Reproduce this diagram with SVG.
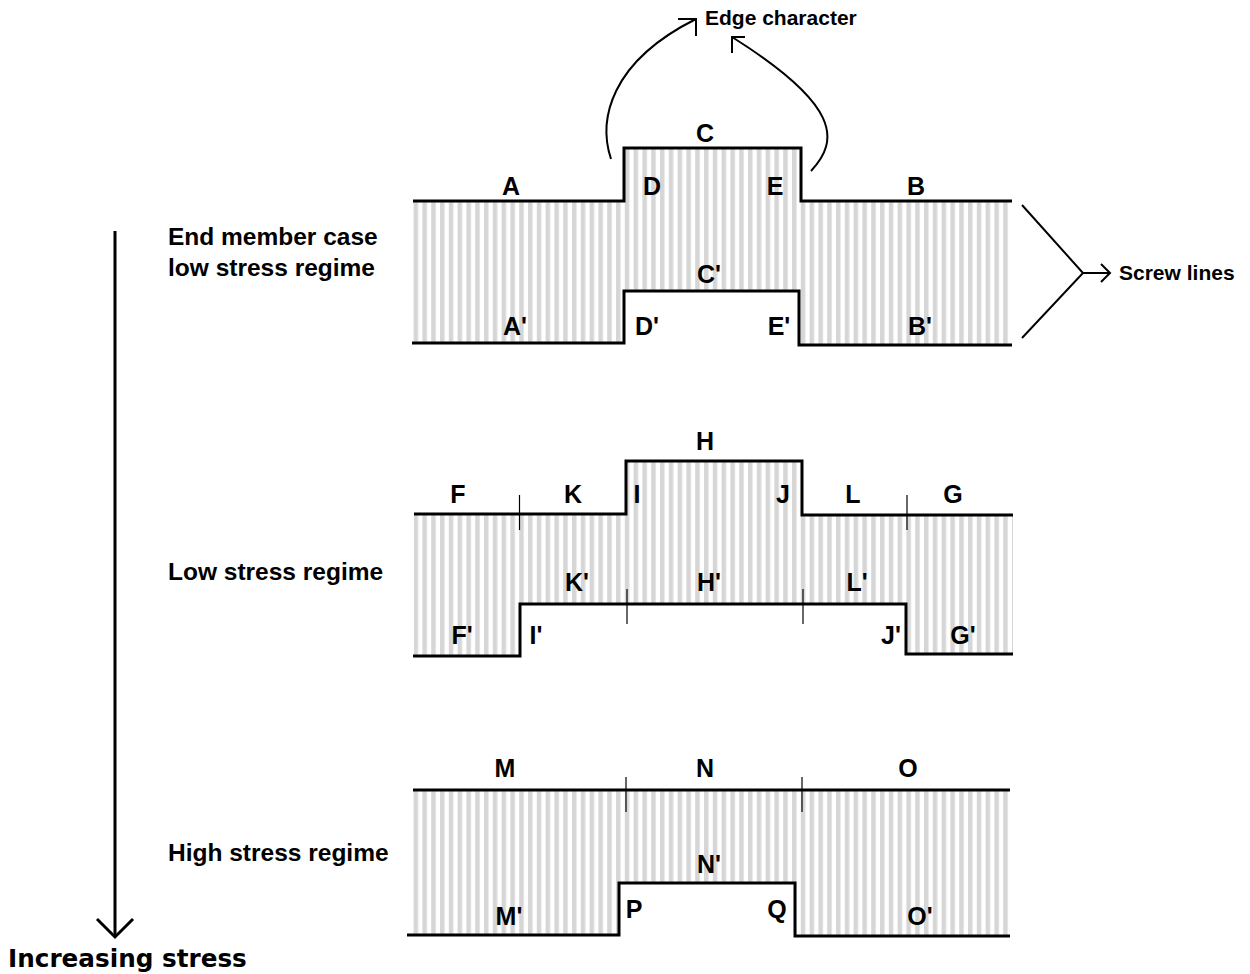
<svg xmlns="http://www.w3.org/2000/svg" width="1250" height="974" viewBox="0 0 1250 974">
<defs>
<pattern id="hatch" patternUnits="userSpaceOnUse" width="8.8" height="10">
<rect x="0" y="0" width="4.5" height="10" fill="#d6d6d6"/>
</pattern>
<style>
.fill{fill:url(#hatch);stroke:none}
.edge{fill:none;stroke:#000;stroke-width:3}
.tick{fill:none;stroke:#000;stroke-width:1.2}
.conn{fill:none;stroke:#000;stroke-width:2}
.lbl{font-family:"Liberation Sans",Arial,sans-serif;font-weight:bold;font-size:25px;fill:#000;text-anchor:middle}
.title{font-family:"Liberation Sans",Arial,sans-serif;font-weight:bold;font-size:24.5px;fill:#000}
.note{font-family:"Liberation Sans",Arial,sans-serif;font-weight:bold;font-size:21px;fill:#000}
.big{font-family:"DejaVu Sans",sans-serif;font-weight:bold;font-size:24.7px;fill:#000}
</style>
</defs>
<rect width="1250" height="974" fill="#fff"/>

<g id="panel-end-member">
<polygon class="fill" points="413,201 624,201 624,148 801,148 801,201 1012,201 1012,345 799,345 799,291 624,291 624,343 413,343"/>
<polyline class="edge" points="413,201 624,201 624,148 801,148 801,201 1012,201"/>
<polyline class="edge" points="412,343 624,343 624,291 799,291 799,345 1012,345"/>
<text class="lbl" x="511" y="195">A</text>
<text class="lbl" x="705" y="142">C</text>
<text class="lbl" x="652" y="195">D</text>
<text class="lbl" x="775" y="195">E</text>
<text class="lbl" x="916" y="195">B</text>
<text class="lbl" x="709" y="283">C'</text>
<text class="lbl" x="515" y="335">A'</text>
<text class="lbl" x="647" y="335">D'</text>
<text class="lbl" x="779" y="335">E'</text>
<text class="lbl" x="920" y="335">B'</text>
</g>

<g id="panel-low-stress">
<polygon class="fill" points="414,514 626,514 626,461 802,461 802,515 1013,515 1013,654 906,654 906,604 520,604 520,656 414,656"/>
<polyline class="edge" points="414,514 626,514 626,461 802,461 802,515 1013,515"/>
<polyline class="edge" points="413,656 520,656 520,604 906,604 906,654 1013,654"/>
<line class="tick" x1="519.5" y1="495" x2="519.5" y2="530"/>
<line class="tick" x1="907" y1="495" x2="907" y2="530"/>
<line class="tick" x1="627" y1="589" x2="627" y2="624"/>
<line class="tick" x1="803" y1="589" x2="803" y2="624"/>
<text class="lbl" x="705" y="450">H</text>
<text class="lbl" x="458" y="503">F</text>
<text class="lbl" x="573" y="503">K</text>
<text class="lbl" x="637" y="503">I</text>
<text class="lbl" x="783" y="503">J</text>
<text class="lbl" x="853" y="503">L</text>
<text class="lbl" x="953" y="503">G</text>
<text class="lbl" x="577" y="591">K'</text>
<text class="lbl" x="709" y="591">H'</text>
<text class="lbl" x="857" y="591">L'</text>
<text class="lbl" x="462" y="644">F'</text>
<text class="lbl" x="536" y="644">I'</text>
<text class="lbl" x="891" y="644">J'</text>
<text class="lbl" x="963" y="644">G'</text>
</g>

<g id="panel-high-stress">
<polygon class="fill" points="413,790 1010,790 1010,936 795,936 795,883 619,883 619,935 413,935"/>
<line class="edge" x1="413" y1="790" x2="1010" y2="790"/>
<polyline class="edge" points="407,935 619,935 619,883 795,883 795,936 1010,936"/>
<line class="tick" x1="626" y1="777" x2="626" y2="812"/>
<line class="tick" x1="802" y1="777" x2="802" y2="812"/>
<text class="lbl" x="505" y="777">M</text>
<text class="lbl" x="705" y="777">N</text>
<text class="lbl" x="908" y="777">O</text>
<text class="lbl" x="709" y="873">N'</text>
<text class="lbl" x="509" y="925">M'</text>
<text class="lbl" x="634" y="918">P</text>
<text class="lbl" x="777" y="918">Q</text>
<text class="lbl" x="920" y="925">O'</text>
</g>

<g id="regime-labels">
<text class="title" x="168" y="245">End member case</text>
<text class="title" x="168" y="276">low stress regime</text>
<text class="title" x="168" y="580">Low stress regime</text>
<text class="title" x="168" y="861">High stress regime</text>
</g>

<g id="edge-character">
<text class="note" x="705" y="25">Edge character</text>
</g>

<g id="screw-lines">
<text class="note" x="1119" y="280">Screw lines</text>
</g>

<g id="increasing-stress">
<text class="big" x="8" y="967">Increasing stress</text>
</g>

<g id="connectors">
<path class="conn" d="M 611,159 C 598,120 610,62 696,19"/>
<polyline class="conn" points="678,19 696,19 696,36"/>
<path class="conn" d="M 811,171 C 840,140 840,105 732,37"/>
<polyline class="conn" points="745,37 732,37 732,53"/>
<polyline class="conn" points="1022,205 1083,273 1022,338"/>
<line class="conn" x1="1083" y1="273" x2="1110" y2="273"/>
<polyline class="conn" points="1101,264 1110,273 1101,282"/>
<line class="edge" x1="115" y1="231" x2="115" y2="937"/>
<polyline class="edge" points="97,919 115,937 133,919"/>
</g>
</svg>
